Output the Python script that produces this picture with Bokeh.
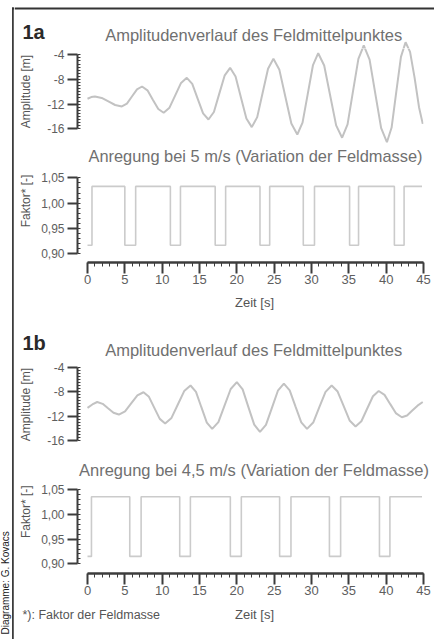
import math
from bokeh.plotting import figure
from bokeh.layouts import row, column
from bokeh.models import Range1d, FixedTicker, CustomJSTickFormatter
from bokeh.core.properties import value
from bokeh.embed import file_html
from bokeh.resources import INLINE

# ---------------- data ----------------
amp_1a_t = [0, 0.5, 1.0, 1.9, 2.8, 3.7, 4.6, 5.28, 5.95, 6.63, 7.3, 8.03, 8.75, 9.48, 10.2,
            10.98, 11.75, 12.53, 13.3, 14.03, 14.75, 15.48, 16.2, 16.93, 17.65, 18.38, 19.1,
            19.83, 20.55, 21.28, 22.0, 22.73, 23.45, 24.18, 24.9, 25.7, 26.5, 27.3, 28.1,
            28.8, 29.5, 30.2, 30.9, 31.7, 32.5, 33.3, 34.1, 34.83, 35.55, 36.28, 37.0,
            37.78, 38.55, 39.33, 40.1, 40.73, 41.35, 41.98, 42.6, 43.2, 43.8, 44.4, 44.9]
amp_1a_v = [-11.13, -10.85, -10.76, -11.0, -11.57, -12.14, -12.38, -11.91, -10.76, -9.61, -9.14,
            -9.76, -11.27, -12.78, -13.4, -12.57, -10.57, -8.56, -7.73, -8.72, -11.11, -13.5,
            -14.49, -13.27, -10.3, -7.33, -6.11, -7.52, -10.92, -14.33, -15.73, -14.11, -10.19,
            -6.27, -4.65, -6.44, -10.79, -15.13, -16.92, -15.0, -10.33, -5.66, -3.74, -5.74,
            -10.6, -15.45, -17.45, -15.27, -9.97, -4.67, -2.49, -4.78, -10.33, -15.88, -18.17,
            -15.8, -10.07, -4.33, -1.96, -3.53, -7.65, -12.5, -15.2]

amp_1b_t = [0, 0.65, 1.3, 2.03, 2.75, 3.48, 4.2, 5.03, 5.85, 6.68, 7.5, 8.23, 8.95, 9.68, 10.4,
            11.25, 12.1, 12.95, 13.8, 14.53, 15.25, 15.98, 16.7, 17.53, 18.35, 19.18, 20.0,
            20.78, 21.55, 22.33, 23.1, 23.9, 24.7, 25.5, 26.3, 27.08, 27.85, 28.63, 29.4,
            30.23, 31.05, 31.88, 32.7, 33.5, 34.3, 35.1, 35.9, 36.68, 37.45, 38.23, 39.0,
            39.78, 40.55, 41.33, 42.1, 42.8, 43.5, 44.2, 44.9]
amp_1b_v = [-10.65, -10.1, -9.7, -10.0, -10.73, -11.45, -11.75, -11.22, -9.93, -8.63, -8.1,
            -8.85, -10.65, -12.46, -13.2, -12.3, -10.1, -7.91, -7.0, -8.04, -10.55, -13.06,
            -14.1, -12.98, -10.28, -7.57, -6.45, -7.64, -10.53, -13.41, -14.6, -13.45, -10.65,
            -7.85, -6.7, -7.78, -10.4, -13.02, -14.1, -13.06, -10.55, -8.04, -7.0, -7.98,
            -10.35, -12.72, -13.7, -12.85, -10.8, -8.75, -7.9, -8.53, -10.05, -11.57, -12.2,
            -11.9, -11.1, -10.3, -9.7]

fac_1a_t = [0, 0.6, 5.0, 6.45, 11.1, 12.45, 17.1, 18.5, 23.1, 24.4, 28.9, 30.4, 35.1, 36.3,
            41.1, 42.4, 44.8]
fac_1a_v = [0.917, 1.033, 0.917, 1.033, 0.917, 1.033, 0.917, 1.033, 0.917, 1.033, 0.917,
            1.033, 0.917, 1.033, 0.917, 1.033, 1.033]

fac_1b_t = [0, 0.53, 5.66, 7.18, 12.35, 13.78, 19.13, 20.6, 25.73, 27.25, 32.4, 33.9, 39.1,
            40.5, 44.8]
fac_1b_v = [0.915, 1.036, 0.915, 1.036, 0.915, 1.036, 0.915, 1.036, 0.915, 1.036, 0.915,
            1.036, 0.915, 1.036, 1.036]

amp_ticks = [-16, -12, -8, -4]
amp_minor = [-16 + 0.5 * i for i in range(25)]
fac_ticks = [0.90, 0.95, 1.00, 1.05]
fac_minor = [round(0.90 + 0.01 * i, 2) for i in range(16)]
time_ticks = [0, 5, 10, 15, 20, 25, 30, 35, 40, 45]
time_minor = list(range(46))

label_1a = "1a"
label_1b = "1b"
title_amp = "Amplitudenverlauf  des Feldmittelpunktes"
title_fac_1a = "Anregung bei 5 m/s (Variation der Feldmasse)"
title_fac_1b = "Anregung bei 4,5 m/s (Variation der Feldmasse)"
ylabel_amp = "Amplitude [m]"
ylabel_fac = "Faktor* [-]"
xlabel = "Zeit [s]"
footnote = "*): Faktor der Feldmasse"
credit = "Diagramme: G. Kovacs"

# ---------------- styling / geometry (page pixels, page origin at 0,0) ----------------
FONT = "Liberation Sans"
AX = "#3c3c3c"
TICKTXT = "#5e5e5e"
TITLE = "#707070"
LABEL = "#555555"
WAVE = "#c2c2c2"
STEP = "#cbcbcb"
FRAMELINE = "#333333"
BASE_SHIFT = 0.42     # measured: text anchor sits this many em above the baseline

PAGE_W, PAGE_H = 434, 639
COL_X0 = 14           # left edge of the right-hand column
YLAB_X1 = 38          # right edge of the narrow y-label figures
FRAME_L, FRAME_R = 77, 423
T0_PX = 87
T_END = 45.0
KX = T_END / (FRAME_R - T0_PX)
XS = -(T0_PX - FRAME_L) * KX


def t_range_for(px0, px1):
    return Range1d(XS + (px0 - FRAME_L) * KX, XS + (px1 - FRAME_L) * KX)


class Frame:
    def __init__(self, top, bottom, va, pya, vb, pyb):
        self.top, self.bottom = top, bottom
        ky = (va - vb) / (pyb - pya)
        self.y1 = va + (pya - top) * ky
        self.y0 = va - (bottom - pya) * ky


def pix_fig(x0, x1, y0, y1):
    """Figure whose data space is page pixels (y downward)."""
    p = figure(width=x1 - x0, height=y1 - y0, x_range=Range1d(x0, x1),
               y_range=Range1d(y1, y0), output_backend="svg", toolbar_location=None,
               x_axis_location=None, y_axis_location=None, min_border=0)
    p.outline_line_color = None
    p.grid.visible = False
    return p


def text(p, x, y, s, size, color, bold=False, align="center", vertical=False):
    """x, y: page position of the text baseline."""
    if vertical:
        x = x - BASE_SHIFT * size
        angle = math.pi / 2
    else:
        y = y - BASE_SHIFT * size
        angle = 0.0
    p.text(x=[x], y=[y], text=[s], text_font=value(FONT), text_font_size=value(f"{size}px"),
           text_color=color, text_font_style="bold" if bold else "normal",
           text_align=align, text_baseline="alphabetic", angle=angle)


def plot_fig(top, height, fr, xaxis):
    p = figure(width=PAGE_W - YLAB_X1, height=height, x_range=Range1d(XS, T_END),
               y_range=Range1d(fr.y0, fr.y1), output_backend="svg",
               toolbar_location=None, x_axis_location="below" if xaxis else None,
               y_axis_location="left", min_border_left=FRAME_L - YLAB_X1,
               min_border_right=PAGE_W - FRAME_R, min_border_top=fr.top - top,
               min_border_bottom=top + height - fr.bottom)
    p.outline_line_color = None
    p.xgrid.visible = False
    p.ygrid.visible = False
    return p


def style_yaxis(ax, bounds, ticks, minor, code):
    ax.bounds = bounds
    ax.ticker = FixedTicker(ticks=ticks, minor_ticks=minor)
    ax.formatter = CustomJSTickFormatter(code=code)
    ax.axis_line_color = AX
    ax.axis_line_width = 2
    ax.major_tick_line_color = AX
    ax.major_tick_line_width = 2
    ax.major_tick_out = 10
    ax.major_tick_in = 0
    ax.minor_tick_line_color = AX
    ax.minor_tick_line_width = 1
    ax.minor_tick_in = 3
    ax.minor_tick_out = 0
    ax.major_label_standoff = 3
    ax.major_label_text_font = FONT
    ax.major_label_text_font_size = "12px"
    ax.major_label_text_color = TICKTXT


def style_xaxis(ax):
    ax.bounds = (0, 45)
    ax.ticker = FixedTicker(ticks=time_ticks, minor_ticks=time_minor)
    ax.formatter = CustomJSTickFormatter(code="return tick.toFixed(0)")
    ax.axis_line_color = AX
    ax.axis_line_width = 2.5
    ax.major_tick_line_color = AX
    ax.major_tick_line_width = 2
    ax.major_tick_out = 11
    ax.major_tick_in = 0
    ax.minor_tick_line_color = AX
    ax.minor_tick_line_width = 1
    ax.minor_tick_out = 4
    ax.minor_tick_in = 0
    ax.major_label_standoff = 1
    ax.major_label_text_font = FONT
    ax.major_label_text_font_size = "13px"
    ax.major_label_text_color = TICKTXT


AMP_CODE = "return tick.toFixed(0)"
FAC_CODE = "return tick.toFixed(2).replace('.', ',')"

MAP_A = (-4, 54.3, -16, 128.3)     # amplitude value -> page y (1a)
MAP_C = (-4, 366.7, -16, 440.0)    # amplitude value -> page y (1b)

# ---------------- band above 1a: frame line, "1a", title, wave peaks ----------------
band1 = pix_fig(COL_X0, PAGE_W, 0, 48)
band1.segment(x0=[COL_X0], y0=[8], x1=[PAGE_W], y1=[8], line_color=FRAMELINE, line_width=1.8)
frA_top = Frame(0, 48, *MAP_A)
band1.extra_x_ranges = {"t": t_range_for(COL_X0, PAGE_W)}
band1.extra_y_ranges = {"amp": Range1d(frA_top.y0, frA_top.y1)}
band1.line(amp_1a_t, amp_1a_v, line_color=WAVE, line_width=2,
           x_range_name="t", y_range_name="amp")
text(band1, 22, 39.5, label_1a, 20, "#2a2a2a", bold=True, align="left")
text(band1, 255.5, 41, title_amp, 16.5, TITLE)

# ---------------- 1a amplitude ----------------
frA = Frame(48, 146, *MAP_A)
pA = plot_fig(48, 98, frA, False)
style_yaxis(pA.yaxis[0], (-16, -4), amp_ticks, amp_minor, AMP_CODE)
pA.line(amp_1a_t, amp_1a_v, line_color=WAVE, line_width=2)
ylA = pix_fig(COL_X0, YLAB_X1, 48, 146)
text(ylA, 31, 91, ylabel_amp, 12, LABEL, vertical=True)

# ---------------- band: factor title 1a ----------------
band2 = pix_fig(COL_X0, PAGE_W, 146, 170)
text(band2, 255, 162, title_fac_1a, 16.4, TITLE)

# ---------------- 1a factor ----------------
frB = Frame(170, 262, 1.05, 177.3, 0.90, 253.3)
pB = plot_fig(170, 124, frB, True)
style_yaxis(pB.yaxis[0], (0.90, 1.05), fac_ticks, fac_minor, FAC_CODE)
style_xaxis(pB.xaxis[0])
pB.step(fac_1a_t, fac_1a_v, mode="after", line_color=STEP, line_width=1.6)
ylB = pix_fig(COL_X0, YLAB_X1, 170, 294)
text(ylB, 31, 211, ylabel_fac, 12, LABEL, vertical=True)

# ---------------- band: "Zeit [s]" of 1a, "1b", title ----------------
band3 = pix_fig(COL_X0, PAGE_W, 294, 360)
text(band3, 254, 307, xlabel, 13, LABEL)
text(band3, 22, 351, label_1b, 20, "#2a2a2a", bold=True, align="left")
text(band3, 255.5, 356, title_amp, 16.5, TITLE)

# ---------------- 1b amplitude ----------------
frC = Frame(360, 458, *MAP_C)
pC = plot_fig(360, 98, frC, False)
style_yaxis(pC.yaxis[0], (-16, -4), amp_ticks, amp_minor, AMP_CODE)
pC.line(amp_1b_t, amp_1b_v, line_color=WAVE, line_width=2)
ylC = pix_fig(COL_X0, YLAB_X1, 360, 458)
text(ylC, 31, 404, ylabel_amp, 12, LABEL, vertical=True)

# ---------------- band: factor title 1b ----------------
band4 = pix_fig(COL_X0, PAGE_W, 458, 483)
text(band4, 253.5, 476.5, title_fac_1b, 16.5, TITLE)

# ---------------- 1b factor ----------------
frD = Frame(483, 573, 1.05, 489.3, 0.90, 563.3)
pD = plot_fig(483, 121, frD, True)
style_yaxis(pD.yaxis[0], (0.90, 1.05), fac_ticks, fac_minor, FAC_CODE)
style_xaxis(pD.xaxis[0])
pD.step(fac_1b_t, fac_1b_v, mode="after", line_color=STEP, line_width=1.6)
ylD = pix_fig(COL_X0, YLAB_X1, 483, 604)
text(ylD, 31, 521, ylabel_fac, 12, LABEL, vertical=True)

# ---------------- bottom band: footnote + "Zeit [s]" ----------------
band5 = pix_fig(COL_X0, PAGE_W, 604, PAGE_H)
text(band5, 22, 619.5, footnote, 12.5, LABEL, align="left")
text(band5, 254, 619.5, xlabel, 13, LABEL)

# ---------------- left strip: frame line + credit ----------------
left = pix_fig(0, COL_X0, 0, PAGE_H)
left.segment(x0=[12.4], y0=[7.1], x1=[12.4], y1=[PAGE_H], line_color=FRAMELINE, line_width=1.7)
left.segment(x0=[11.5], y0=[8], x1=[COL_X0], y1=[8], line_color=FRAMELINE, line_width=1.8)
text(left, 9.6, 634, credit, 10, "#222222", align="left", vertical=True)

right = column(band1, row(ylA, pA), band2, row(ylB, pB), band3, row(ylC, pC),
               band4, row(ylD, pD), band5, spacing=0)
layout = row(left, right, spacing=0)

open("out.html", "w").write(file_html(layout, INLINE))
